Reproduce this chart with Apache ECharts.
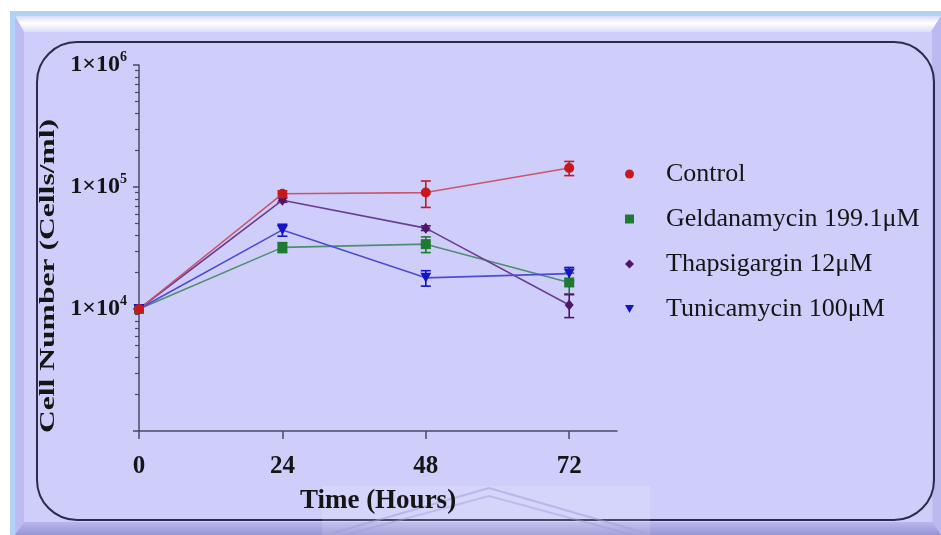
<!DOCTYPE html>
<html>
<head>
<meta charset="utf-8">
<script src="https://cdn.jsdelivr.net/npm/echarts@6/dist/echarts.min.js"></script>
<style>
  html, body { margin: 0; padding: 0; background: #ffffff; }
  #chart { width: 941px; height: 535px; }
</style>
</head>
<body>
<div id="chart"></div>
<script>
// Growth curves: mean cell count and SD per time point
const hours = [0, 24, 48, 72];
const seriesNames = ['Control', 'Geldanamycin 199.1μM', 'Thapsigargin 12μM', 'Tunicamycin 100μM'];
const controlMean = [10000, 88000, 90000, 143000];
const controlSd = [0, 5000, 22000, 19000];
const geldanamycinMean = [10000, 32000, 34000, 16500];
const geldanamycinSd = [0, 3000, 5000, 3200];
const thapsigarginMean = [10000, 78000, 46000, 10800];
const thapsigarginSd = [0, 3000, 2000, 2300];
const tunicamycinMean = [10000, 44500, 18000, 19500];
const tunicamycinSd = [0, 5000, 2600, 2400];
const xTicks = [0, 24, 48, 72];

const FONT = "'Liberation Serif', 'Times New Roman', serif";
const AXIS = '#4a4a66';
const TRI_DOWN = 'path://M0,0L10,0L5,9Z';

const groups = [
  { name: seriesNames[1], mean: geldanamycinMean, sd: geldanamycinSd, symbol: 'rect', size: 10, marker: '#1e7a30', line: '#4f8d72' },
  { name: seriesNames[2], mean: thapsigarginMean, sd: thapsigarginSd, symbol: 'diamond', size: [9, 11], marker: '#4e1668', line: '#6a3d92' },
  { name: seriesNames[3], mean: tunicamycinMean, sd: tunicamycinSd, symbol: TRI_DOWN, size: [11, 10], marker: '#1414c8', line: '#4c4cd2' },
  { name: seriesNames[0], mean: controlMean, sd: controlSd, symbol: 'circle', size: 10, marker: '#c8181e', line: '#c8566c' }
];

const legendIcons = {};
legendIcons[seriesNames[0]] = 'circle';
legendIcons[seriesNames[1]] = 'rect';
legendIcons[seriesNames[2]] = 'diamond';
legendIcons[seriesNames[3]] = TRI_DOWN;

const series = [];
groups.forEach(function (g) {
  series.push({
    type: 'custom',
    name: g.name + ' SD',
    silent: true,
    z: 3,
    encode: { x: 0, y: 1 },
    data: hours.map(function (h, i) { return [h, g.mean[i], g.sd[i]]; }),
    renderItem: function (params, api) {
      const x = api.value(0), m = api.value(1), s = api.value(2);
      if (!s) return;
      const top = api.coord([x, m + s]);
      const bot = api.coord([x, m - s]);
      const w = 5;
      const st = { stroke: g.marker, lineWidth: 1.6 };
      return {
        type: 'group',
        children: [
          { type: 'line', shape: { x1: top[0], y1: top[1], x2: bot[0], y2: bot[1] }, style: st },
          { type: 'line', shape: { x1: top[0] - w, y1: top[1], x2: top[0] + w, y2: top[1] }, style: st },
          { type: 'line', shape: { x1: bot[0] - w, y1: bot[1], x2: bot[0] + w, y2: bot[1] }, style: st }
        ]
      };
    }
  });
  series.push({
    type: 'line',
    name: g.name,
    z: 4,
    symbol: g.symbol,
    symbolSize: g.size,
    showAllSymbol: true,
    data: hours.map(function (h, i) { return [h, g.mean[i]]; }),
    itemStyle: { color: g.marker, opacity: 1 },
    lineStyle: { color: g.line, width: 1.6 },
    emphasis: { disabled: true },
    animation: false
  });
});

// Slide frame behind the plot
const frame = [
  { type: 'rect', z: -20, shape: { x: 10, y: 11, width: 931, height: 524 }, style: { fill: '#b3d0f5' } },
  { type: 'rect', z: -19, shape: { x: 15, y: 16, width: 926, height: 519 }, style: { fill: '#c4c2f3' } },
  { type: 'polygon', z: -18, shape: { points: [[15, 16], [941, 16], [931, 32], [24, 32]] },
    style: { fill: { type: 'linear', x: 0, y: 0, x2: 0, y2: 1, colorStops: [
      { offset: 0, color: '#d9dafb' }, { offset: 0.45, color: '#ffffff' }, { offset: 1, color: '#dcdbfb' }] } } },
  { type: 'polygon', z: -18, shape: { points: [[15, 16], [24, 32], [24, 522], [15, 535]] }, style: { fill: '#bdbbf1' } },
  { type: 'polygon', z: -18, shape: { points: [[941, 16], [931, 32], [933, 522], [941, 535]] }, style: { fill: '#bbb9ef' } },
  { type: 'polygon', z: -18, shape: { points: [[15, 535], [24, 522], [933, 522], [941, 535]] },
    style: { fill: { type: 'linear', x: 0, y: 0, x2: 0, y2: 1, colorStops: [
      { offset: 0, color: '#b9b7ec' }, { offset: 1, color: '#9795d4' }] } } },
  { type: 'rect', z: -17, shape: { x: 24, y: 32, width: 908, height: 490 }, style: { fill: '#cfcefb' } },
  { type: 'rect', z: -16, shape: { x: 37, y: 42, width: 897, height: 478, r: 40 },
    style: { fill: 'none', stroke: '#2c2c4a', lineWidth: 2 } },
  // faint emblem near the bottom edge
  { type: 'rect', z: -15, shape: { x: 322, y: 486, width: 328, height: 49 }, style: { fill: 'rgba(255,255,255,0.13)' } },
  { type: 'polyline', z: -15, shape: { points: [[333, 533], [489, 488], [645, 533]] },
    style: { fill: 'none', stroke: 'rgba(160,158,215,0.55)', lineWidth: 2 } },
  { type: 'polyline', z: -15, shape: { points: [[345, 535], [489, 496], [633, 535]] },
    style: { fill: 'none', stroke: 'rgba(160,158,215,0.45)', lineWidth: 2 } },
  // vertical axis title, set in a tall narrow face
  { type: 'text', z: 10, x: 49, y: 276, rotation: Math.PI / 2, scaleX: 1.58, scaleY: 1,
    style: { text: 'Cell Number (Cells/ml)', font: "bold 20px 'Liberation Serif', 'Times New Roman', serif",
      fill: '#151515', align: 'center', verticalAlign: 'middle' } }
];

const chart = echarts.init(document.getElementById('chart'), null, { renderer: 'canvas' });
chart.setOption({
  backgroundColor: '#ffffff',
  animation: false,
  graphic: { elements: frame },
  grid: { left: 139, right: 324, top: 65, bottom: 104, containLabel: false },
  legend: {
    orient: 'vertical',
    left: 620,
    top: 156,
    itemWidth: 9,
    itemHeight: 9,
    itemGap: 19,
    selectedMode: false,
    data: seriesNames.map(function (n) { return { name: n, icon: legendIcons[n] }; }),
    textStyle: { fontFamily: FONT, fontSize: 26, color: '#151515', lineHeight: 26, padding: [0, 0, 0, 27] }
  },
  xAxis: {
    type: 'value',
    min: 0,
    max: 80,
    interval: 24,
    axisLine: { show: true, onZero: false, lineStyle: { color: AXIS, width: 1.5 } },
    axisTick: { show: true, length: 8, customValues: xTicks, lineStyle: { color: AXIS, width: 1.5 } },
    axisLabel: { customValues: xTicks, margin: 23, fontFamily: FONT, fontWeight: 'bold', fontSize: 25, color: '#151515' },
    splitLine: { show: false },
    name: 'Time (Hours)',
    nameLocation: 'middle',
    nameGap: 57,
    nameTextStyle: { fontFamily: FONT, fontWeight: 'bold', fontSize: 27, color: '#151515' }
  },
  yAxis: {
    type: 'log',
    logBase: 10,
    min: 1000,
    max: 1000000,
    axisLine: { show: true, lineStyle: { color: AXIS, width: 1.5 } },
    axisTick: { show: true, length: 6, lineStyle: { color: AXIS, width: 1.5 } },
    minorTick: { show: true, splitNumber: 9, length: 4, lineStyle: { color: AXIS, width: 1.2 } },
    splitLine: { show: false },
    minorSplitLine: { show: false },
    axisLabel: {
      margin: 12,
      formatter: function (v) {
        const e = Math.round(Math.log10(v));
        return e <= 3 ? '' : '{b|1×10}{s|' + e + '}';
      },
      rich: {
        b: { fontFamily: FONT, fontWeight: 'bold', fontSize: 24, color: '#151515', lineHeight: 30 },
        s: { fontFamily: FONT, fontWeight: 'bold', fontSize: 14, color: '#151515', verticalAlign: 'top', lineHeight: 14 }
      }
    }
  },
  series: series
});
</script>
</body>
</html>
